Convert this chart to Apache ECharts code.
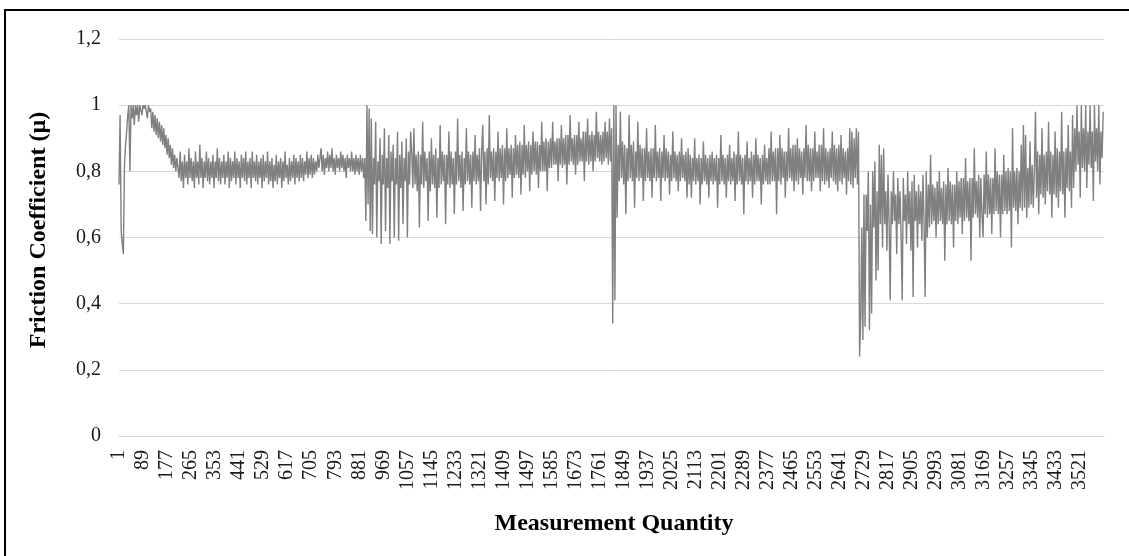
<!DOCTYPE html>
<html>
<head>
<meta charset="utf-8">
<script src="https://cdn.jsdelivr.net/npm/echarts@6/dist/echarts.min.js"></script>
<style>
html,body{margin:0;padding:0;background:#fff;}
#c{width:1129px;height:556px;}
</style>
</head>
<body>
<div id="c"></div>
<script>
// Measurement step between stored samples (every 4th measurement)
const sampleStep = 4;
const totalMeasurements = 3607;
const yTicks = [0, 0.2, 0.4, 0.6, 0.8, 1, 1.2];

// Test 1 (measurements ~1-903)
const test1 = [
.76,.97,.62,.58,.55,.82,.88,.92,.97,1,
.8,1,.96,1,.94,1,.97,1,.95,1,1,.97,1,.99,1,1,.96,1,.98,
.99,.93,.98,.92,.97,.91,.96,.9,.95,.89,.94,.88,.93,.87,.91,.85,.9,.84,.88,.82,.87,.81,.85,.8,.84,
.84,.78,.86,.77,.83,.75,.85,.78,
.83,.76,.87,.78,.84,.77,.83,.75,
.86,.78,.83,.76,.88,.78,.84,.75,
.83,.78,.86,.77,.84,.76,.83,.78,
.85,.75,.83,.78,.87,.77,.84,.76,
.83,.78,.85,.76,.83,.78,.86,.75,
.84,.77,.83,.78,.86,.76,.84,.78,
.83,.75,.85,.78,.84,.77,.86,.76,
.83,.78,.84,.75,.86,.78,.83,.77,
.85,.76,.83,.78,.84,.75,.85,.77,
.83,.78,.86,.76,.83,.77,.84,.75,
.82,.77,.85,.76,.83,.78,.84,.75,
.83,.77,.86,.78,.82,.76,.84,.77,
.83,.78,.85,.76,.84,.78,.83,.77,
.85,.78,.84,.77,.83,.79,.86,.78,
.84,.79,.85,.78,.84,.79,.83,
.8,.85,.81,.84,.87,.8,.85,.79,
.84,.81,.86,.8,.85,.81,.87,.8,
.84,.79,.85,.81,.84,.8,.86,.81,
.85,.8,.84,.78,.85,.81,.84,.8,
.86,.8,.84,.79,.85,.8,.84,.79,
.85,.8,.84,.78,.84
];
// Test 2 (measurements ~904-1807)
const test2 = [
.65,1,.7,.99,.62,
.96,.61,.84,.76,.95,.6,.83,.77,
.9,.58,.85,.76,.93,.62,.84,.75,
.91,.58,.86,.77,.88,.6,.84,.76,
.92,.59,.85,.75,.89,.64,.84,.77,
.9,.6,.86,.76,.92,
.86,.75,.93,.76,.85,.74,.86,.63,
.85,.76,.95,.75,.86,.77,.84,.65,
.86,.74,.9,.76,.85,.75,.87,.66,
.84,.75,.94,.76,.86,.77,.85,.64,
.85,.76,.92,.75,.86,.76,.84,.67,
.86,.76,.96,.77,.85,.75,.86,.68,
.84,.76,.93,.77,.86,.76,.85,.69,
.86,.77,.91,.76,.85,.77,.87,.68,
.86,.94,
.77,.86,.7,.87,.76,.97,.78,.86,
.77,.87,.71,.86,.78,.92,.77,.87,
.78,.88,.7,.87,.77,.93,.78,.87,
.79,.88,.72,.87,.78,.91,.79,.88,
.78,.89,.73,.88,.79,.94,.78,.88,
.8,.89,.74,.88,.79,.92,.8,.89,
.79,.89,.75,.88,.8,.95,.8,.89,
.8,.9,.74,.89,.81,
.9,.81,.95,.82,.89,.82,.9,.77,
.9,.82,.94,.81,.9,.82,.91,.76,
.91,.82,.97,.83,.9,.82,.91,.79,
.91,.82,.95,.83,.9,.83,.92,.77,
.92,.83,.96,.82,.91,.83,.92,.8,
.91,.83,.98,.84,.92,.83,.91,.82,
.92,.83,.95,.84,.92,.82,.96,.83,
.93
];
// Test 3 (measurements ~1808-2707)
const test3 = [
.34,1,.41,1,
.66,.88,.77,.98,.78,.89,.76,.88,
.67,.87,.77,.97,.78,.88,.77,.89,
.69,.86,.78,.95,.77,.88,.78,.87,
.71,
.87,.77,.93,.78,.86,.77,.87,.72,
.87,.78,.94,.77,.86,.78,.87,.71,
.86,.78,.91,.77,.87,.78,.86,.73,
.85,.77,.92,.78,.86,.77,.85,.74,
.86,.77,.9,.78,.85,.77,.86,.72,
.87,
.76,.85,.72,.84,.77,.9,.76,.84,
.77,.85,.7,.84,.76,.89,.77,.85,
.76,.84,.72,.85,.77,.86,.76,.84,
.77,.85,.69,.84,.76,.91,.77,.85,
.76,.84,.72,.85,.77,.88,.76,.84,
.77,.86,.71,.85,.76,.92,.77,.85,
.76,.84,.67,.85,.77,.89,.76,.84,
.77,.86,.72,.85,.76,.9,.77,.85,
.77,.84,.7,.85,.76,.88,.77,.84,
.76,
.87,.76,.92,.77,.86,.77,.87,.67,
.87,.77,.91,.76,.87,.78,.86,.72,
.86,.77,.93,.78,.87,.77,.88,.74,
.88,.77,.9,.76,.87,.78,.86,.73,
.87,.78,.94,.77,.88,.77,.87,.74,
.87,.77,.92,.78,.86,.78,.88,.74,
.88,.77,.93,.76,.87,.77,.86,.75,
.87,.78,.92,.77,.88,.76,.87,.74,
.88,.77,.91,.76,.87,.78,.86,.73,
.87,.77,.93,.76,.92,.75,.9,.78,
.93,.76
];
// Test 4 (measurements ~2708-3607)
const test4 = [
.92,.24,.35,.63,.29,.73,
.33,.73,.62,.8,.32,.7,.37,.8,.63,.83,.47,.74,.5,.88,.64,.85,.57,.87,
.64,.74,.56,.79,.65,.41,.74,.64,
.8,.65,.73,.55,.78,.64,.74,.6,
.41,.78,.65,.73,.58,.8,.64,.74,
.56,.77,.42,.79,.65,.74,.57,.76,
.64,.74,.59,.79,.65,.42,.8,.6,
.76,.63,.85,.64,.76,.65,.75,.6,
.77,.64,.8,.65,.75,.64,.77,.53,
.76,.64,.81,.65,.77,.64,.76,.57,
.76,.65,.8,.64,.77,.66,.78,.61,
.78,.65,.84,.66,.77,.65,.78,.53,
.78,.66,.87,.67,.77,.66,.79,.6,
.78,.67,
.6,.79,.67,.86,.66,.79,.67,.78,
.61,.78,.67,.87,.68,.8,.67,.79,
.6,.79,.67,.85,.68,.8,.67,.81,
.68,.8,.57,.93,.69,.8,.68,.81,
.64,.8,.69,.88,.68,.94,.69,.91,
.66,.81,.69,.89,.7,.82,.69,.8,
.98,.72,.86,.67,.85,.73,.93,.72,
.85,.7,.86,.74,.95,.73,.86,.66,
.85,.73,.92,.72,.87,.69,.86,.74,
.98,.73,.86,.66,.87,.75,.94,.74,
.86,.69,.97,.75,
.93,.8,1,.82,.92,.72,1,.81,
.93,.8,1,.75,.92,.82,1,.81,
.92,.71,1,.83,.93,.8,1,.76,
.92,.84,.98
];

const friction = test1.concat(test2, test3, test4);
const seriesData = friction.map((v, i) => [i * sampleStep, v]);

const FONT = "'Liberation Serif', 'Times New Roman', serif";
const chart = echarts.init(document.getElementById('c'), null, {renderer: 'canvas'});
chart.setOption({
  animation: false,
  backgroundColor: '#ffffff',
  grid: {left: 119, right: 25, top: 39, bottom: 120, containLabel: false},
  xAxis: {
    type: 'value',
    min: 0,
    max: totalMeasurements,
    interval: 88,
    axisLine: {show: true, lineStyle: {color: '#d9d9d9', width: 1}},
    axisTick: {show: false},
    splitLine: {show: false},
    axisLabel: {
      rotate: 90,
      margin: 14,
      fontSize: 20,
      fontFamily: FONT,
      color: '#1a1a1a',
      padding: [7, 0, 0, 0],
      showMaxLabel: false,
      formatter: v => String(v + 1)
    }
  },
  yAxis: {
    type: 'value',
    min: yTicks[0],
    max: yTicks[yTicks.length - 1],
    interval: 0.2,
    axisLine: {show: false},
    axisTick: {show: false},
    splitLine: {show: true, lineStyle: {color: '#d9d9d9', width: 1}},
    axisLabel: {
      margin: 18,
      fontSize: 20,
      fontFamily: FONT,
      color: '#1a1a1a',
      formatter: v => String(+v.toFixed(1)).replace('.', ',')
    }
  },
  series: [{
    type: 'line',
    data: seriesData,
    symbol: 'none',
    showSymbol: false,
    lineStyle: {color: '#808080', width: 1.4},
    itemStyle: {color: '#808080'}
  }],
  graphic: [
    {type: 'rect', shape: {x: 5, y: 10, width: 1200, height: 600}, style: {fill: 'none', stroke: '#000', lineWidth: 2}, silent: true},
    {type: 'text', x: 39, y: 230, rotation: Math.PI / 2,
     style: {text: 'Friction Coefficient (µ)', font: "bold 24px " + FONT, fill: '#000', textAlign: 'center', textVerticalAlign: 'middle'}},
    {type: 'text', x: 614, y: 524,
     style: {text: 'Measurement Quantity', font: "bold 24px " + FONT, fill: '#000', textAlign: 'center', textVerticalAlign: 'middle'}}
  ]
});
</script>
</body>
</html>
